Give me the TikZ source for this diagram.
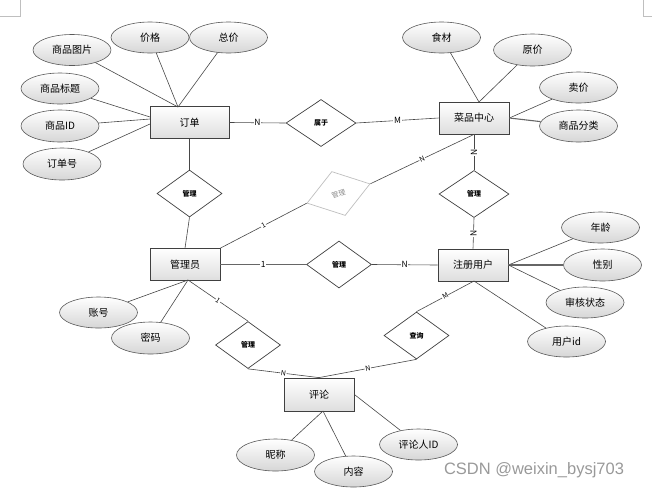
\documentclass[tikz,border=0pt]{standalone}
\usepackage{fontspec}
\setmainfont{Noto Sans CJK SC}
\newfontfamily\wmfont{Liberation Sans}
\usetikzlibrary{shapes.geometric,calc}
\begin{document}
\begin{tikzpicture}[x=1pt,y=-1pt,
  ent/.style={draw=black!75, line width=0.8pt, top color=white, bottom color=black!13, minimum width=70pt, minimum height=32pt, inner sep=0pt, font=\fontsize{10}{10}\selectfont},
  attr/.style={ellipse, draw=black!65, line width=0.6pt, top color=white, bottom color=black!16, minimum width=78pt, minimum height=31pt, inner sep=0pt, font=\fontsize{10}{10}\selectfont},
  rel/.style={diamond, draw=black!75, line width=0.7pt, fill=white, minimum width=65pt, minimum height=47pt, inner sep=0pt, font=\fontsize{7}{7}\selectfont\bfseries},
  relg/.style={rel, draw=black!25, text=black!45, font=\fontsize{7}{7}\selectfont},
  ln/.style={draw=black!72, line width=0.6pt},
  thk/.style={draw=black!60, line width=1.1pt},
  card/.style={fill=white, inner sep=0.6pt, font=\fontsize{8.5}{8.5}\selectfont},
  cards/.style={card, font=\fontsize{7}{7}\selectfont},
  cornermark/.style={draw=black!25, line width=0.6pt}
]
\useasboundingbox (0,0) rectangle (652,491);

% page corner marks
\coordinate (tl1) at (20,0); \coordinate (tl2) at (20,16); \coordinate (tl3) at (0,16);
\coordinate (tr1) at (643,0); \coordinate (tr2) at (643,16); \coordinate (tr3) at (652,16);
\draw[cornermark] (tl1) -- (tl2) -- (tl3);
\draw[cornermark] (tr1) -- (tr2) -- (tr3);

% entities
\node[ent, minimum width=79pt] (order) at (189.5,122.5) {订单};
\node[ent] (dish) at (474,118) {菜品中心};
\node[ent] (adm) at (185,264.5) {管理员};
\node[ent] (user) at (473,265) {注册用户};
\node[ent, minimum height=33pt] (com) at (319,394.5) {评论};

% relationships
\node[rel, minimum width=70pt] (belong) at (321,123) {属于};
\node[rel] (r1) at (189.5,193.5) {管理};
\node[relg, rotate=17, minimum width=66pt, minimum height=46pt] (r2) at (338.5,193.5) {管理};
\node[rel, minimum width=70pt] (r3) at (474,194) {管理};
\node[rel] (r4) at (339,264.5) {管理};
\node[rel] (r5) at (248,345) {管理};
\node[rel] (q) at (416.5,335.5) {查询};

% attributes
\node[attr] (a1) at (72,50) {商品图片};
\node[attr] (a2) at (150,37.5) {价格};
\node[attr] (a3) at (228.5,37.5) {总价};
\node[attr] (a4) at (60,88.5) {商品标题};
\node[attr, minimum height=32pt] (a5) at (60,126) {商品ID};
\node[attr, minimum height=32pt] (a6) at (62,164) {订单号};
\node[attr] (b1) at (441.5,37.5) {食材};
\node[attr, minimum height=32pt] (b2) at (532.5,50) {原价};
\node[attr] (b3) at (578.5,87.5) {卖价};
\node[attr, minimum height=32pt] (b4) at (578.5,126) {商品分类};
\node[attr] (c1) at (600.5,227.5) {年龄};
\node[attr, minimum height=32pt] (c2) at (602.5,265) {性别};
\node[attr] (c3) at (585,302.5) {审核状态};
\node[attr] (c4) at (566.5,341.5) {用户id};
\node[attr] (d1) at (98.5,312.5) {账号};
\node[attr, minimum height=32pt] (d2) at (150.5,338) {密码};
\node[attr, minimum height=32pt] (e1) at (275.5,455) {昵称};
\node[attr] (e2) at (353.5,471.5) {内容};
\node[attr] (e3) at (418.5,444.5) {评论人ID};

% convergence points
\coordinate (oT) at (178,107);
\coordinate (oL1) at (150,117);
\coordinate (oL2) at (150,119);
\coordinate (oL3) at (150,124);
\coordinate (dT) at (479,102);
\coordinate (uB) at (474,281);
\coordinate (aB) at (188,280);
\coordinate (cB) at (323,411);

% attribute connectors
\draw[ln] (a1) -- (oT);
\draw[ln] (a2) -- (oT);
\draw[ln] (a3) -- (oT);
\draw[ln] (a4) -- (oL1);
\draw[ln] (a5) -- (oL2);
\draw[ln] (a6) -- (oL3);
\draw[ln] (b1) -- (dT);
\draw[ln] (b2) -- (dT);
\draw[ln] (b3) -- (dish.east);
\draw[thk] (b4) -- (dish.east);
\draw[ln] (c1) -- (user.east);
\draw[thk] (c2) -- (user.east);
\draw[ln] (c3) -- (user.east);
\draw[ln] (c4) -- (uB);
\draw[ln] (d1) -- (aB);
\draw[ln] (d2) -- (aB);
\draw[ln] (e1) -- (cB);
\draw[ln] (e2) -- (cB);
\draw[ln] (e3) -- (com.east);

% relationship connectors
\draw[ln] (order.east) -- node[card]{N} (belong.west);
\draw[ln] (belong.east) -- node[card]{M} (dish.west);
\draw[ln] (order.south) -- (r1.north);
\draw[ln] (r1.south) -- (adm.north);
\draw[ln] (dish.south) -- node[card, rotate=90]{N} (r3.north);
\draw[ln] (r3.south) -- node[card, rotate=90]{N} (user.north);
\draw[ln] (adm.north east) -- node[cards, rotate=27]{1} (r2.west);
\draw[ln] (r2.east) -- node[cards, rotate=25]{N} (dish.south);
\draw[thk] (adm.east) -- node[card]{1} (r4.west);
\draw[ln] (r4.east) -- node[card]{N} (user.west);
\draw[ln] (aB) -- node[cards, rotate=-35]{1} (r5.north);
\draw[ln] (r5.south) -- node[cards, rotate=-8]{N} (com.north);
\draw[ln] (q.south) -- node[cards, rotate=11]{N} (com.north);
\draw[ln] (uB) -- node[cards, rotate=29]{M} (q.north);

% watermark
\node[text=black!40, font=\wmfont\fontsize{16.5}{16.5}\selectfont] (wm) at (534,470) {CSDN @weixin\_bysj703};
\end{tikzpicture}
\end{document}
